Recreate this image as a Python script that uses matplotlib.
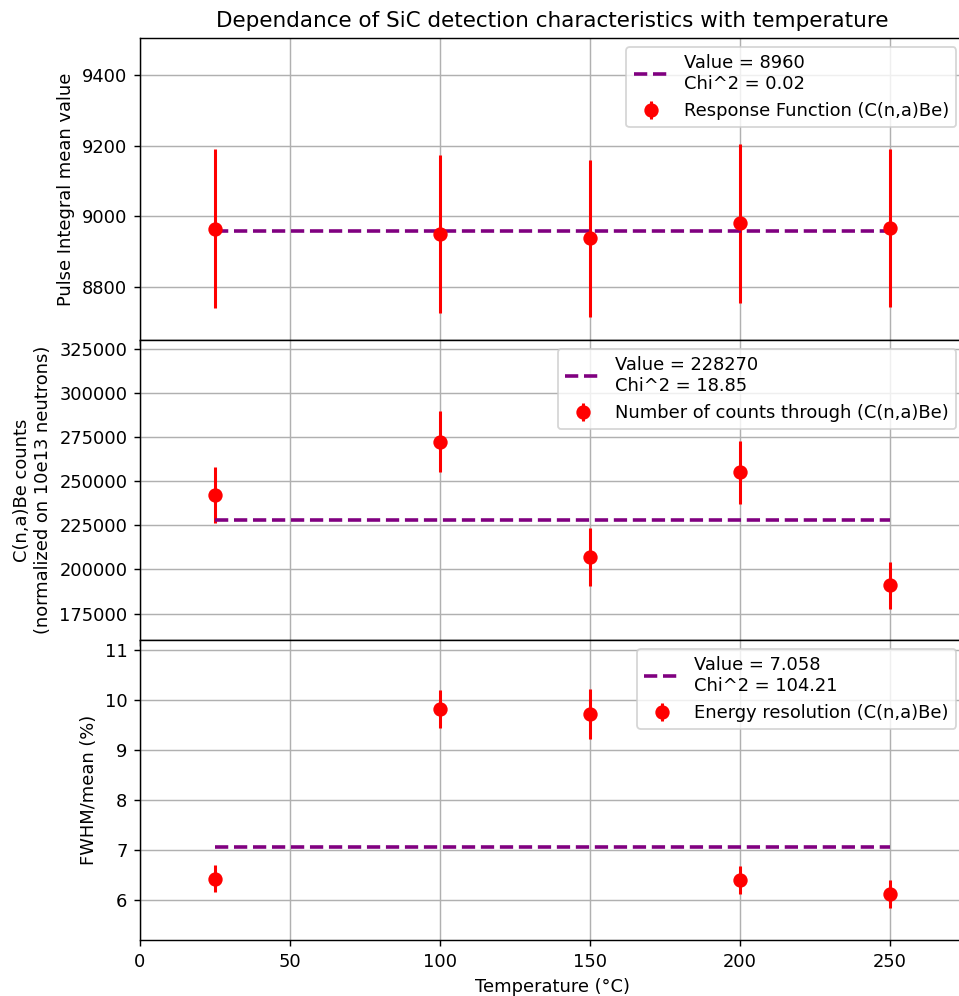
import matplotlib
matplotlib.use("Agg")
import matplotlib.pyplot as plt
import numpy as np

# temperatures (deg C)
temps = [25, 100, 150, 200, 250]

# pulse integral mean value
pulse_mean = [8965, 8951, 8938, 8981, 8968]
pulse_err = [225, 224, 223, 225, 224]
pulse_fit = 8960
pulse_chi2 = 0.02

# C(n,a)Be counts normalized on 10e13 neutrons
counts = [242300, 272500, 207000, 255000, 191000]
counts_err = [16000, 17500, 16500, 18000, 13500]
counts_fit = 228270
counts_chi2 = 18.85

# energy resolution FWHM/mean (%)
resol = [6.43, 9.83, 9.73, 6.41, 6.12]
resol_err = [0.27, 0.38, 0.50, 0.28, 0.28]
resol_fit = 7.058
resol_chi2 = 104.21

DPI = 129
fig = plt.figure(figsize=(959 / DPI, 996 / DPI), dpi=DPI)
left, width = 0.146, 0.8603
ax1 = fig.add_axes([left, 0.6586, width, 0.3032])
ax2 = fig.add_axes([left, 0.3574, width, 0.3012], sharex=ax1)
ax3 = fig.add_axes([left, 0.0562, width, 0.3012], sharex=ax1)

panels = [
    (ax1, pulse_mean, pulse_err, pulse_fit, "Value = %d\nChi^2 = %.2f" % (pulse_fit, pulse_chi2),
     "Response Function (C(n,a)Be)", "Pulse Integral mean value", (8650, 9505)),
    (ax2, counts, counts_err, counts_fit, "Value = %d\nChi^2 = %.2f" % (counts_fit, counts_chi2),
     "Number of counts through (C(n,a)Be)", "C(n,a)Be counts\n(normalized on 10e13 neutrons)", (160000, 330000)),
    (ax3, resol, resol_err, resol_fit, "Value = %.3f\nChi^2 = %.2f" % (resol_fit, resol_chi2),
     "Energy resolution (C(n,a)Be)", "FWHM/mean (%)", (5.2, 11.2)),
]

for ax, y, yerr, fit, fit_label, data_label, ylabel, ylim in panels:
    ax.errorbar(temps, y, yerr=yerr, fmt="o", color="red", markersize=7,
                elinewidth=1.7, label=data_label)
    ax.plot([temps[0], temps[-1]], [fit, fit], "--", color="purple", lw=2, label=fit_label)
    ax.set_ylabel(ylabel)
    ax.set_ylim(*ylim)
    ax.grid(True)
    ax.legend(loc="upper right")

ax1.set_xlim(0, 275)
ax1.tick_params(labelbottom=False)
ax2.tick_params(labelbottom=False)
ax1.set_title("Dependance of SiC detection characteristics with temperature")
ax3.set_xlabel("Temperature (°C)")

fig.savefig("out.png", dpi=DPI)
